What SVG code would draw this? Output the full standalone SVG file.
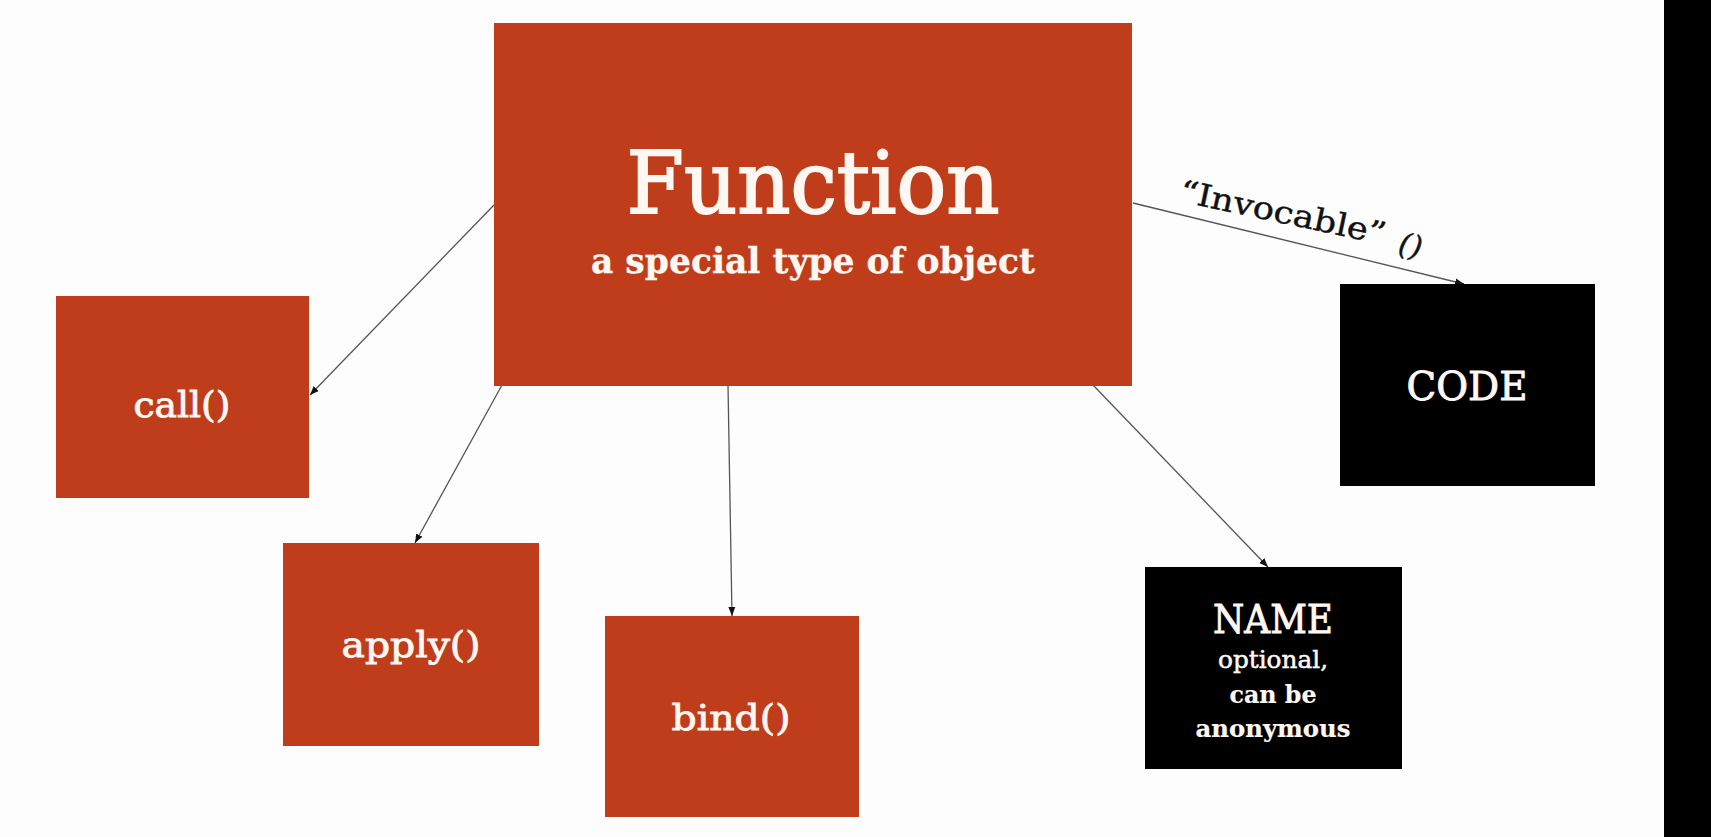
<svg xmlns="http://www.w3.org/2000/svg" width="1711" height="837" viewBox="0 0 1711 837">
<defs>
<marker id="arr" markerWidth="10" markerHeight="10" refX="9" refY="5" orient="auto" markerUnits="userSpaceOnUse">
<path d="M0,1.5 L9,5 L0,8.5 Z" fill="#111"/>
</marker>
<style>
.orange{fill:#BF3D1B;}
.black{fill:#000;}
.t{font-family:"DejaVu Serif","Liberation Serif",serif;fill:#FFF8F2;stroke:#FFF8F2;stroke-width:0.9;text-anchor:middle;}
.conn{stroke:#555;stroke-width:1.3;fill:none;marker-end:url(#arr);}
.lbl{font-family:"DejaVu Serif","Liberation Serif",serif;fill:#111;stroke:#111;stroke-width:0.4;}
</style>
</defs>
<rect x="0" y="0" width="1711" height="837" fill="#FDFDFD"/>
<rect x="1664" y="0" width="47" height="837" fill="#000"/>

<g id="connectors">
<line class="conn" x1="494" y1="205" x2="310" y2="395"/>
<line class="conn" x1="502" y1="385" x2="415" y2="543"/>
<line class="conn" x1="728" y1="385" x2="732" y2="616"/>
<line class="conn" x1="1093" y1="385" x2="1268" y2="567"/>
<line class="conn" x1="1133" y1="203" x2="1464" y2="284"/>
<text class="lbl" x="1178" y="201" font-size="31" textLength="210" lengthAdjust="spacingAndGlyphs" transform="rotate(12 1178 201)">“Invocable”</text>
<text class="lbl" x="1397" y="253" font-size="30" font-style="italic" transform="rotate(12 1397 253)">()</text>
</g>

<g id="function">
<rect class="orange" x="494" y="23" width="638" height="363"/>
<text class="t" x="813" y="213" font-size="86" style="stroke-width:2" textLength="373" lengthAdjust="spacingAndGlyphs">Function</text>
<text class="t" x="813" y="273" font-size="36" font-weight="bold" style="stroke-width:0.3" textLength="444" lengthAdjust="spacingAndGlyphs">a special type of object</text>
</g>

<g id="call">
<rect class="orange" x="56" y="296" width="253" height="202"/>
<text class="t" x="182" y="417" font-size="36" textLength="97" lengthAdjust="spacingAndGlyphs">call()</text>
</g>

<g id="apply">
<rect class="orange" x="283" y="543" width="256" height="203"/>
<text class="t" x="411" y="657" font-size="36" textLength="139" lengthAdjust="spacingAndGlyphs">apply()</text>
</g>

<g id="bind">
<rect class="orange" x="605" y="616" width="254" height="201"/>
<text class="t" x="731" y="730" font-size="36" textLength="119" lengthAdjust="spacingAndGlyphs">bind()</text>
</g>

<g id="code">
<rect class="black" x="1340" y="284" width="255" height="202"/>
<text class="t" x="1467" y="400" font-size="39" textLength="121" lengthAdjust="spacingAndGlyphs">CODE</text>
</g>

<g id="name">
<rect class="black" x="1145" y="567" width="257" height="202"/>
<text class="t" x="1273" y="633" font-size="39" textLength="120" lengthAdjust="spacingAndGlyphs">NAME</text>
<text class="t" x="1273" y="668" font-size="24" style="stroke-width:0.5" textLength="110" lengthAdjust="spacingAndGlyphs">optional,</text>
<text class="t" x="1273" y="703" font-size="24" font-weight="bold" style="stroke-width:0.2" textLength="87" lengthAdjust="spacingAndGlyphs">can be</text>
<text class="t" x="1273" y="737" font-size="24" font-weight="bold" style="stroke-width:0.2" textLength="155" lengthAdjust="spacingAndGlyphs">anonymous</text>
</g>
</svg>
